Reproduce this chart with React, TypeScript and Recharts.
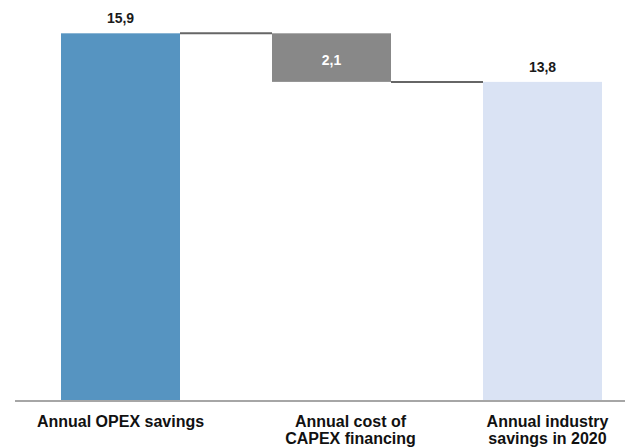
import { BarChart, Bar, XAxis, YAxis, LabelList } from 'recharts';

const categories = [
  'Annual OPEX savings',
  'Annual cost of\nCAPEX financing',
  'Annual industry\nsavings in 2020',
];
const stepValues = [15.9, -2.1, 13.8];
const stepKinds = ['total', 'delta', 'total'];
const barColors = ['#5694c1', '#888888', '#dae3f4'];

const W = 625;
const H = 440;
const MARGIN = { top: 23, right: -15, bottom: 0, left: 7 };
const BAND = (W - MARGIN.left - MARGIN.right) / categories.length;
const FONT = 'Arial, "Liberation Sans", sans-serif';
// the category captions sit a little right of their bars in the original
const tickNudge = [0, 19, 5];

// waterfall rows: invisible base + visible step
let running = 0;
const data = categories.map((name, i) => {
  const v = stepValues[i];
  let base = 0;
  if (stepKinds[i] === 'total') {
    running = v;
  } else {
    const next = running + v;
    base = Math.min(running, next);
    running = next;
  }
  return { name, base, size: Math.abs(v), kind: stepKinds[i], color: barColors[i] };
});

const fmt = (v: number) => v.toFixed(1).replace('.', ',');

const StepBar = (props: any) => {
  const { x, y, width, height, index } = props;
  const row = data[index];
  const last = index === data.length - 1;
  const lineY = row.kind === 'delta' && stepValues[index] < 0 ? y + height : y;
  return (
    <g>
      <rect x={x} y={y} width={width} height={height} fill={row.color} />
      {!last && (
        <line x1={x + width} x2={x + BAND} y1={lineY} y2={lineY} stroke="#666" strokeWidth={2} />
      )}
    </g>
  );
};

const ValueLabel = (props: any) => {
  const { x, y, width, height, index } = props;
  const row = data[index];
  const inside = row.kind === 'delta';
  return (
    <text
      x={x + width / 2}
      y={inside ? y + height / 2 + 7 : y - 10}
      textAnchor="middle"
      fill={inside ? '#fff' : '#1a1a1a'}
      fontSize={14}
      fontWeight="bold"
      fontFamily={FONT}
    >
      {fmt(row.size)}
    </text>
  );
};

const CategoryTick = ({ x, y, payload, index }: any) => {
  const lines = String(payload.value).split('\n');
  const cx = x + (tickNudge[index] ?? 0);
  return (
    <text x={cx} y={y + 26} textAnchor="middle" fontSize={16} fontWeight="bold" fill="#111" fontFamily={FONT}>
      {lines.map((l, i) => (
        <tspan key={i} x={cx} dy={i ? 17 : 0}>{l}</tspan>
      ))}
    </text>
  );
};

export default function App() {
  return (
    <BarChart width={W} height={H} data={data} margin={MARGIN} barSize={119}>
      <XAxis
        dataKey="name"
        height={47}
        tickLine={false}
        tickSize={0}
        tickMargin={0}
        interval={0}
        axisLine={{ stroke: '#a6a6a6', strokeWidth: 2 }}
        tick={<CategoryTick />}
      />
      <YAxis hide domain={[0, 16]} />
      <Bar dataKey="base" stackId="w" fill="transparent" isAnimationActive={false} />
      <Bar dataKey="size" stackId="w" shape={<StepBar />} isAnimationActive={false}>
        <LabelList dataKey="size" content={<ValueLabel />} />
      </Bar>
    </BarChart>
  );
}
